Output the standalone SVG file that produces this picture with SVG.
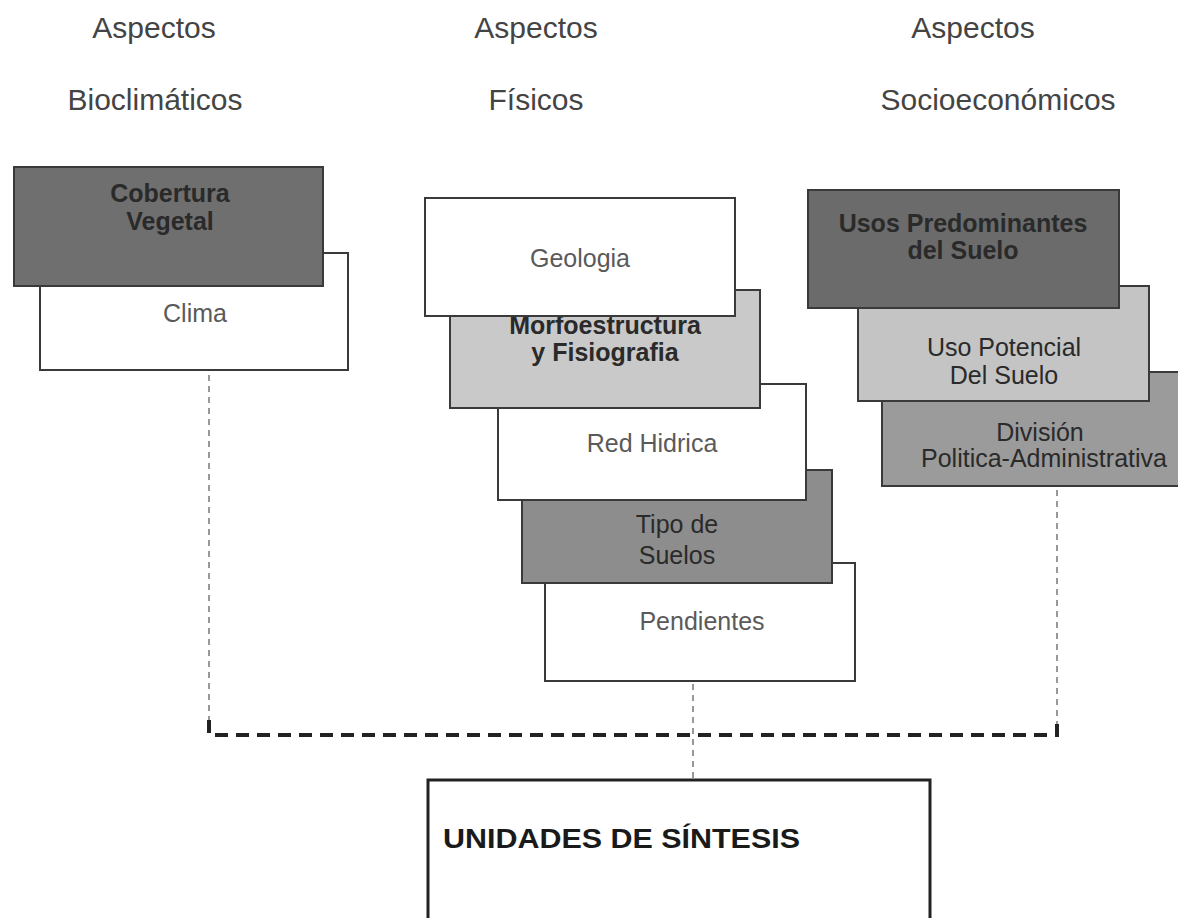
<svg xmlns="http://www.w3.org/2000/svg" width="1178" height="918" viewBox="0 0 1178 918">
<style>
.hdr{font-family:"Liberation Sans",Arial,sans-serif;font-size:30px;fill:#444;text-anchor:middle}
.t{font-family:"Liberation Sans",Arial,sans-serif;font-size:25px;text-anchor:middle}
.tw{fill:#5a5a5a}
.td{fill:#2a2a2a}
.b{font-weight:bold}
.box{stroke:#3a3a3a;stroke-width:2}
.thin{fill:none;stroke:#777;stroke-width:1.5;stroke-dasharray:6 5}
.thick{fill:none;stroke:#222;stroke-width:4;stroke-dasharray:13 8}
</style>
<rect width="1178" height="918" fill="#fff"/>
<g id="headers">
<text class="hdr" x="154" y="38">Aspectos</text>
<text class="hdr" x="155" y="110">Bioclimáticos</text>
<text class="hdr" x="536" y="38">Aspectos</text>
<text class="hdr" x="536" y="110">Físicos</text>
<text class="hdr" x="973" y="38">Aspectos</text>
<text class="hdr" x="998" y="110">Socioeconómicos</text>
</g>
<g id="connectors">
<line class="thin" x1="209" y1="375" x2="209" y2="735"/>
<line class="thin" x1="1057" y1="490" x2="1057" y2="735"/>
<line class="thin" x1="693" y1="684" x2="693" y2="780"/>
<polyline class="thick" points="209,720 209,735 1057,735 1057,720"/>
</g>
<g id="clima">
<rect class="box" x="40" y="253" width="308" height="117" fill="#fff" stroke-width="1.5"/>
<text class="t tw" x="195" y="322">Clima</text>
</g>
<g id="cobertura">
<rect class="box" x="14" y="167" width="309" height="119" fill="#6f6f6f"/>
<text class="t td b" x="170" y="202">Cobertura</text>
<text class="t td b" x="170" y="230">Vegetal</text>
</g>
<g id="pendientes">
<rect class="box" x="545" y="563" width="310" height="118" fill="#fff" stroke-width="1.5"/>
<text class="t tw" x="702" y="630">Pendientes</text>
</g>
<g id="tipo">
<rect class="box" x="522" y="470" width="310" height="113" fill="#8d8d8d"/>
<text class="t td" x="677" y="533">Tipo de</text>
<text class="t td" x="677" y="564">Suelos</text>
</g>
<g id="red">
<rect class="box" x="498" y="384" width="308" height="116" fill="#fff" stroke-width="1.5"/>
<text class="t tw" x="652" y="452">Red Hidrica</text>
</g>
<g id="morfo">
<rect class="box" x="450" y="290" width="310" height="118" fill="#c9c9c9"/>
<text class="t td b" x="605" y="334">Morfoestructura</text>
<text class="t td b" x="605" y="361">y Fisiografia</text>
</g>
<g id="geologia">
<rect class="box" x="425" y="198" width="310" height="118" fill="#fff" stroke-width="1.5"/>
<text class="t tw" x="580" y="267">Geologia</text>
</g>
<g id="division">
<rect class="box" x="882" y="372" width="300" height="114" fill="#9b9b9b"/>
<text class="t td" x="1040" y="441">División</text>
<text class="t td" x="1044" y="467">Politica-Administrativa</text>
</g>
<g id="potencial">
<rect class="box" x="858" y="286" width="291" height="115" fill="#c4c4c4"/>
<text class="t td" x="1004" y="356">Uso Potencial</text>
<text class="t td" x="1004" y="384">Del Suelo</text>
</g>
<g id="usos">
<rect class="box" x="808" y="190" width="311" height="118" fill="#6b6b6b"/>
<text class="t td b" x="963" y="232">Usos Predominantes</text>
<text class="t td b" x="963" y="259">del Suelo</text>
</g>
<g id="unidades">
<rect x="428" y="780" width="502" height="150" fill="#fff" stroke="#222" stroke-width="3"/>
<text x="443" y="848" font-family="'Liberation Sans',Arial,sans-serif" font-size="28" font-weight="bold" fill="#1a1a1a" textLength="357" lengthAdjust="spacingAndGlyphs">UNIDADES DE SÍNTESIS</text>
</g>
</svg>
